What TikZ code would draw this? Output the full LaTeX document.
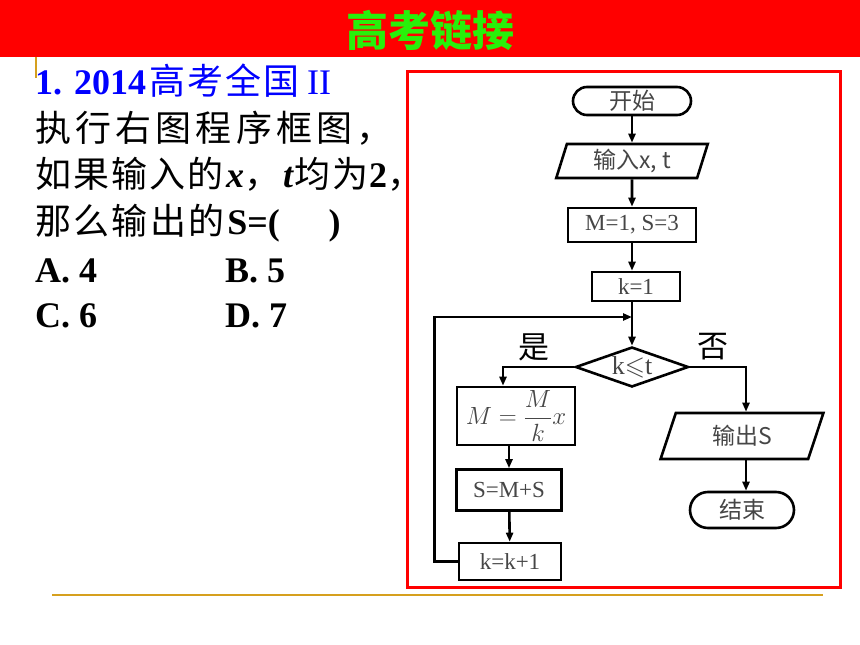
\documentclass[tikz,border=0pt]{standalone}
\usepackage{amsmath,amssymb}
\usepackage{fontspec}
\setmainfont{Liberation Serif}
\newfontfamily\cjk{Noto Sans CJK SC}
\usetikzlibrary{arrows.meta,shapes.geometric}
\definecolor{hdrred}{RGB}{255,0,0}
\definecolor{hdrgreen}{RGB}{40,240,10}
\definecolor{goldline}{RGB}{214,160,30}
\definecolor{fctext}{RGB}{70,70,70}
\definecolor{qblue}{RGB}{0,0,255}
\newcommand\zh[1]{{\cjk #1}}
\makeatletter
\def\spreadchars#1#2{\def\sp@gap{#1}\sp@loop#2\@nil}
\def\sp@loop#1{\ifx\@nil#1\hskip-\sp@gap\relax\else#1\hskip\sp@gap\relax\expandafter\sp@loop\fi}
\makeatother
\newcommand\zhsp[2]{{\cjk\spreadchars{#1}{#2}}}
\begin{document}
\begin{tikzpicture}[x=1pt,y=-1pt,
  fc/.style={draw=black, line width=2.6pt, text=fctext, inner sep=0pt,
    font=\fontsize{23}{25}\selectfont},
  boxnode/.style={fc, rectangle},
  termnode/.style={fc, rectangle},
  ionode/.style={fc, trapezium, trapezium left angle=#1, trapezium right angle=180-#1,
    trapezium stretches=true},
  decnode/.style={fc, diamond, aspect=2.8, font=\fontsize{26}{28}\selectfont},
  arr/.style={line width=2.6pt, -{Triangle[length=9pt,width=7pt]}},
  qline/.style={anchor=base west, inner sep=0pt, font=\fontsize{36}{40}\selectfont},
  lbl/.style={inner sep=0pt, font=\cjk\fontsize{31}{31}\selectfont}
]
\useasboundingbox (0,0) rectangle (860,645);
\fill[white] (0,0) rectangle (860,645);
% header
\fill[hdrred] (0,0) rectangle (860,57);
\node[inner sep=0pt, text=hdrgreen, font=\cjk\bfseries\fontsize{42}{42}\selectfont] (title) at (430,30) {高考链接};
\draw[goldline, line width=1.5pt] (36,57) -- (36,78);
\draw[goldline, line width=2pt] (52,595) -- (823,595);

% question text
\node[qline, text=qblue] (q1) at (35,94) {\textbf{1. 2014}\hspace{3pt}\zhsp{2pt}{高考全国}\hspace{8pt}II};
\node[qline] (q2) at (35,141) {\zhsp{4.2pt}{执行右图程序框图，}};
\node[qline] (q3) at (35,187) {\zhsp{2pt}{如果输入的}\hspace{3pt}\textbf{\textit{x}}\zh{，}\hspace{3pt}\textbf{\textit{t}}\zhsp{2pt}{均为}\hspace{1pt}\textbf{2}\zh{，}};
\node[qline] (q4) at (35,234) {\zhsp{2.3pt}{那么输出的}\hspace{3pt}\textbf{S=(\hspace{1.35em})}};
\node[qline] (qa) at (35,282) {\textbf{A. 4}};
\node[qline] (qb) at (225,282) {\textbf{B. 5}};
\node[qline] (qc) at (35,327) {\textbf{C. 6}};
\node[qline] (qd) at (225,327) {\textbf{D. 7}};

% frame
\draw[hdrred, line width=3pt] (407,71) rectangle (840,587);

% flowchart
\node[termnode, rounded corners=14pt, minimum width=118, minimum height=28] (start) at (632,101) {\zh{开始}};
\node[ionode=75, minimum width=152, minimum height=34] (in) at (632,161) {\zh{输入x, t}};
\node[boxnode, minimum width=128, minimum height=34] (init) at (632,225) {M=1, S=3};
\node[boxnode, minimum width=88, minimum height=29] (k1) at (636,286.5) {k=1};
\node[decnode, minimum width=113, minimum height=40] (cond) at (632,367) {k$\leqslant$t};
\node[boxnode, minimum width=118, minimum height=58] (mb) at (516,416) {$M=\dfrac{M}{k}x$};
\node[boxnode, minimum width=105, minimum height=41] (sb) at (509,490) {S=M+S};
\node[boxnode, minimum width=102, minimum height=37] (kk) at (510,561.5) {k=k+1};
\node[ionode=72, minimum width=163, minimum height=46] (out) at (742,436) {\zh{输出S}};
\node[termnode, rounded corners=18pt, minimum width=104, minimum height=36] (end) at (742,510) {\zh{结束}};
\coordinate (join) at (632,317);

\draw[arr] (start) -- (in);
\draw[arr] (in) -- (init);
\draw[arr] (init.south) -- (init.south |- k1.north);
\draw[arr] (k1.south -| cond.north) -- (cond.north);
\draw[arr] (kk.west) -- ++(-23,0) |- (join);
\draw[arr] (cond.west) -| ([xshift=-13pt]mb.north);
\draw[arr] (mb.south -| sb.north) -- (sb.north);
\draw[arr] (sb) -- (kk);
\draw[arr] (cond.east) -| ([xshift=4pt]out.north);
\draw[arr] ([xshift=4pt]out.south) -- ([xshift=4pt]out.south |- end.north);

\node[lbl] (yes) at (534,347) {是};
\node[lbl] (no) at (713,347) {否};
\end{tikzpicture}
\end{document}
